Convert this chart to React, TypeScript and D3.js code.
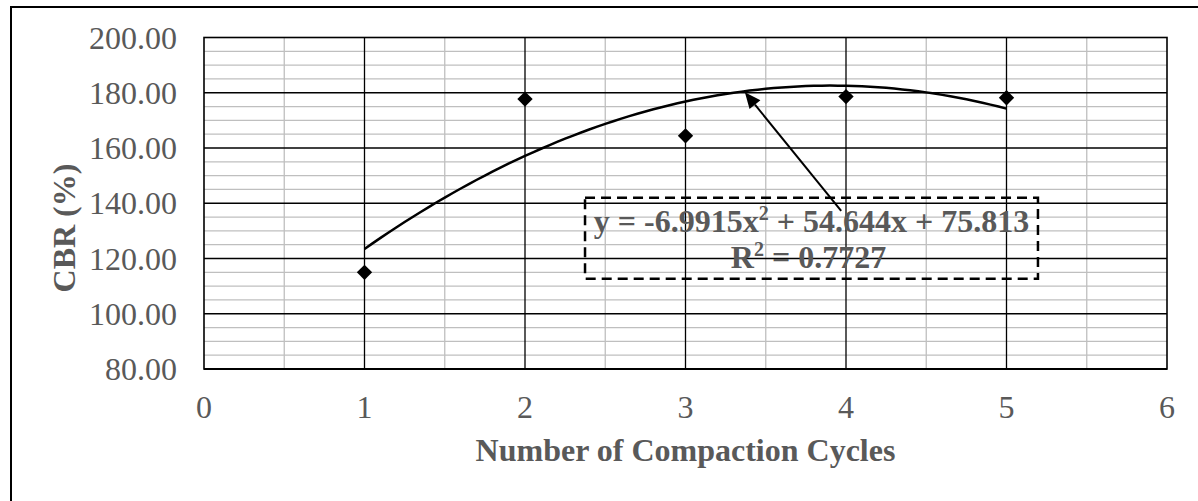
import React from "react";
import * as d3 from "d3";

const cycles = [1, 2, 3, 4, 5];
const cbr = [115.0, 177.7, 164.4, 178.6, 178.2];
const xTicks = [0, 1, 2, 3, 4, 5, 6];
const yTicks = [80, 100, 120, 140, 160, 180, 200];
const trendCoef = [-6.9915, 54.644, 75.813];
const eqLine1 = "y = -6.9915x";
const eqLine2 = "R";
const r2Text = " = 0.7727";

const W = 1198;
const H = 501;
const PL = 204, PR = 1167, PT = 37.5, PB = 369;
const FONT = "'Liberation Serif', 'Times New Roman', serif";
const GREY = "#595959";

export default function App() {
  const x = d3.scaleLinear().domain([0, 6]).range([PL, PR]);
  const y = d3.scaleLinear().domain([80, 200]).range([PB, PT]);
  const f = (v: number) => trendCoef[0] * v * v + trendCoef[1] * v + trendCoef[2];

  const minorX = d3.range(0.5, 6, 1);
  const minorY = d3.range(80, 200, 5).filter((v) => v % 20 !== 0);
  const majorX = xTicks.slice(1, -1);
  const majorY = yTicks.slice(1, -1);

  const trendPts = d3.range(1, 5.0001, 0.05).map((v) => [v, f(v)] as [number, number]);
  const line = d3.line<[number, number]>().x((d) => x(d[0])).y((d) => y(d[1]));

  // label box (data coords)
  const bx0 = x(2.374), bx1 = x(5.196), by0 = y(141.95), by1 = y(112.7);
  const labelCx = (bx0 + bx1) / 2;

  // arrow
  const tipX = 3.37;
  const tx = x(tipX), ty = y(f(tipX)) + 1;
  const sx = x(3.97), sy = by0 + 13;
  const ang = Math.atan2(ty - sy, tx - sx);
  const aL = 16, aW = 7;
  const bxp = tx - aL * Math.cos(ang), byp = ty - aL * Math.sin(ang);
  const head = [
    [tx, ty],
    [bxp + aW * Math.sin(ang), byp - aW * Math.cos(ang)],
    [bxp - aW * Math.sin(ang), byp + aW * Math.cos(ang)],
  ];

  const diamond = d3.symbol().type(d3.symbolDiamond2).size(150)();

  return (
    <svg width={W} height={H} style={{ position: "absolute", left: 0, top: 0, background: "#fff" }}>
      <rect x={0} y={0} width={W} height={H} fill="#fff" />
      <rect x={11} y={7} width={W + 20} height={H + 20} fill="none" stroke="#000" strokeWidth={2} />

      {/* minor grid */}
      {minorY.map((v) => (
        <line key={"my" + v} x1={PL} x2={PR} y1={y(v)} y2={y(v)} stroke="#bfbfbf" strokeWidth={1.3} />
      ))}
      {minorX.map((v) => (
        <line key={"mx" + v} x1={x(v)} x2={x(v)} y1={PT} y2={PB} stroke="#bfbfbf" strokeWidth={1.3} />
      ))}
      {/* major grid */}
      {majorY.map((v) => (
        <line key={"My" + v} x1={PL} x2={PR} y1={y(v)} y2={y(v)} stroke="#000" strokeWidth={1.3} />
      ))}
      {majorX.map((v) => (
        <line key={"Mx" + v} x1={x(v)} x2={x(v)} y1={PT} y2={PB} stroke="#000" strokeWidth={1.3} />
      ))}
      <rect x={PL} y={PT} width={PR - PL} height={PB - PT} fill="none" stroke="#000" strokeWidth={1.6} />
      <line x1={PL} x2={PR} y1={PB} y2={PB} stroke="#000" strokeWidth={2.2} />

      {/* tick labels */}
      {yTicks.map((v) => (
        <text key={"yt" + v} x={177} y={y(v)} dy="0.35em" textAnchor="end" fontFamily={FONT} fontSize={32} fill={GREY}>
          {v.toFixed(2)}
        </text>
      ))}
      {xTicks.map((v) => (
        <text key={"xt" + v} x={x(v)} y={418} textAnchor="middle" fontFamily={FONT} fontSize={32} fill={GREY}>
          {v}
        </text>
      ))}

      {/* axis titles */}
      <text x={(PL + PR) / 2} y={461} textAnchor="middle" fontFamily={FONT} fontSize={32} fontWeight="bold" fill={GREY}>
        Number of Compaction Cycles
      </text>
      <text
        transform={`translate(75, 228) rotate(-90)`}
        textAnchor="middle"
        fontFamily={FONT}
        fontSize={32}
        fontWeight="bold"
        fill={GREY}
      >
        CBR (%)
      </text>

      {/* trendline */}
      <path d={line(trendPts) || ""} fill="none" stroke="#000" strokeWidth={2.5} />

      {/* points */}
      {cycles.map((c, i) => (
        <path key={"p" + c} d={diamond || ""} transform={`translate(${x(c)},${y(cbr[i])})`} fill="#000" />
      ))}

      {/* label box */}
      <rect x={bx0} y={by0} width={bx1 - bx0} height={by1 - by0} fill="none" stroke="#000" strokeWidth={2.5} strokeDasharray="10,6" />
      <text x={labelCx} y={232} textAnchor="middle" fontFamily={FONT} fontSize={32} fontWeight="bold" fill={GREY}>
        {eqLine1}
        <tspan fontSize={20} dy={-12}>2</tspan>
        <tspan dy={12}> + 54.644x + 75.813</tspan>
      </text>
      <text x={labelCx - 3} y={268} textAnchor="middle" fontFamily={FONT} fontSize={32} fontWeight="bold" fill={GREY}>
        {eqLine2}
        <tspan fontSize={20} dy={-12}>2</tspan>
        <tspan dy={12}>{r2Text}</tspan>
      </text>

      {/* arrow */}
      <line x1={sx} y1={sy} x2={bxp} y2={byp} stroke="#000" strokeWidth={2} />
      <polygon points={head.map((p) => p.join(",")).join(" ")} fill="#000" />
    </svg>
  );
}
